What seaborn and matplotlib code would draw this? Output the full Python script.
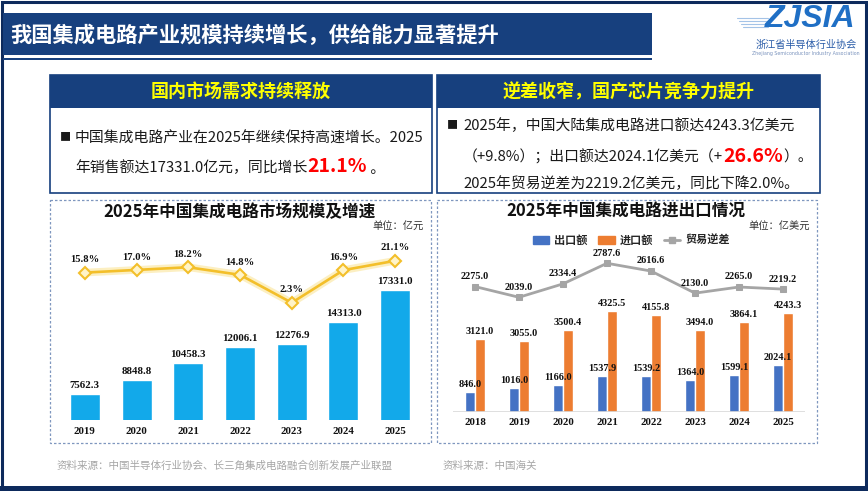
import numpy as np
import pandas as pd
import matplotlib
matplotlib.use("Agg")
import matplotlib.pyplot as plt
import seaborn as sns
from matplotlib.patches import Rectangle, Patch
from matplotlib.lines import Line2D

# ---- data ----
years_market = ["2019", "2020", "2021", "2022", "2023", "2024", "2025"]
market_size = [7562.3, 8848.8, 10458.3, 12006.1, 12276.9, 14313.0, 17331.0]
market_growth = [15.8, 17.0, 18.2, 14.8, 2.3, 16.9, 21.1]

years_trade = ["2018", "2019", "2020", "2021", "2022", "2023", "2024", "2025"]
exports = [846.0, 1016.0, 1166.0, 1537.9, 1539.2, 1364.0, 1599.1, 2024.1]
imports = [3121.0, 3055.0, 3500.4, 4325.5, 4155.8, 3494.0, 3864.1, 4243.3]
deficit = [2275.0, 2039.0, 2334.4, 2787.6, 2616.6, 2130.0, 2265.0, 2219.2]

CJK = ["Noto Sans CJK SC", "DejaVu Sans"]
SERIF = ["Liberation Serif", "DejaVu Serif"]
NAVY = "#17407E"
FRAME = "#0D2A5C"

sns.set_theme(style="white")
plt.rcParams["font.family"] = CJK

W, H = 868, 491
fig = plt.figure(figsize=(W / 100, H / 100), dpi=100)

# background axes in pixel coordinates
bg = fig.add_axes([0, 0, 1, 1])
bg.set_xlim(0, W)
bg.set_ylim(H, 0)
bg.axis("off")


def px_axes(x0, y0, x1, y1):
    return fig.add_axes([x0 / W, 1 - y1 / H, (x1 - x0) / W, (y1 - y0) / H])


def rect(x0, y0, x1, y1, **kw):
    bg.add_patch(Rectangle((x0, y0), x1 - x0, y1 - y0, **kw))


renderer = fig.canvas.get_renderer()


def rich(x, y, parts):
    # parts: (text, size, color, weight) placed one after another on a baseline
    for s, size, color, weight in parts:
        t = bg.text(x, y, s, fontsize=size, color=color, fontweight=weight,
                    va="baseline", ha="left", family=CJK)
        x += t.get_window_extent(renderer=renderer).width


# outer frame
rect(1.5, 1.5, 865.5, 488, fill=False, edgecolor=FRAME, lw=2.2)
rect(0, 486, W, H, color=FRAME, lw=0)

# title bar
rect(3, 13, 652, 55, color=NAVY, lw=0)
rect(3, 57.5, 652, 59.5, color=NAVY, lw=0)
bg.text(10, 35, "我国集成电路产业规模持续增长，供给能力显著提升", color="white",
        fontsize=15.3, fontweight="bold", va="center", ha="left")

# logo
for i, yy in enumerate([18, 21, 24, 27]):
    bg.plot([737 + i * 2, 768], [yy, yy], color="#8DB4E2", lw=0.8, alpha=0.8)
bg.text(810, 19, "ZJSIA", color="#1F6FC5", fontsize=23, fontweight="bold",
        fontstyle="italic", family=["Liberation Sans", "DejaVu Sans"],
        ha="center", va="center")
bg.text(806, 45, "浙江省半导体行业协会", color="#2A5CA8", fontsize=7.3,
        ha="center", va="center")
bg.text(806, 53, "Zhejiang Semiconductor Industry Association", color="#7A93BD",
        fontsize=3.4, ha="center", va="center", family=["DejaVu Sans"])

# text panels
for x0, x1, head in [(50, 432, "国内市场需求持续释放"), (437, 820, "逆差收窄，国产芯片竞争力提升")]:
    rect(x0, 75, x1, 108, color=NAVY, lw=0)
    rect(x0, 75, x1, 193, fill=False, edgecolor=NAVY, lw=1.2)
    bg.text((x0 + x1) / 2, 91.5, head, color="#FFFF00", fontsize=13,
            fontweight="bold", ha="center", va="center")

TXT = "#1A1A1A"
RED = "#FF0000"
FS = 10.7
bg.text(60, 137, "■", fontsize=8, color=TXT, va="center", ha="left")
rich(75, 142.5, [("中国集成电路产业在2025年继续保持高速增长。2025", FS, TXT, "normal")])
rich(75, 172.5, [("年销售额达17331.0亿元，同比增长", FS, TXT, "normal"),
                 ("21.1%", 14, RED, "bold"), (" 。", FS, TXT, "normal")])

bg.text(447, 125, "■", fontsize=8, color=TXT, va="center", ha="left")
rich(463, 130.5, [("2025年，中国大陆集成电路进口额达4243.3亿美元", FS, TXT, "normal")])
rich(463, 161.5, [("（+9.8%）；出口额达2024.1亿美元（+", FS, TXT, "normal"),
                  ("26.6%", 14, RED, "bold"), ("）。", FS, TXT, "normal")])
rich(463, 188.5, [("2025年贸易逆差为2219.2亿美元，同比下降2.0%。", FS, TXT, "normal")])

# dashed chart boxes
for x0, x1 in [(50, 431), (437, 817)]:
    rect(x0, 200, x1, 443, fill=False, edgecolor="#7F97BF", lw=0.9,
         linestyle=(0, (2, 1.6)))

# chart titles and units
bg.text(240, 212, "2025年中国集成电路市场规模及增速", fontsize=12, fontweight="bold",
        ha="center", va="center", color="#111111")
bg.text(424, 227, "单位：亿元", fontsize=7.4, ha="right", va="center", color="#333333")
bg.text(626, 212, "2025年中国集成电路进出口情况", fontsize=12, fontweight="bold",
        ha="center", va="center", color="#111111")
bg.text(810, 227, "单位：亿美元", fontsize=7.4, ha="right", va="center", color="#333333")

# sources
bg.text(57, 466, "资料来源：中国半导体行业协会、长三角集成电路融合创新发展产业联盟",
        fontsize=7.6, color="#A6A6A6", ha="left", va="center")
bg.text(443, 466, "资料来源：中国海关", fontsize=7.6, color="#A6A6A6",
        ha="left", va="center")

# ---- left chart: market size bars + growth line ----
ax1 = px_axes(59, 240, 421, 420)
sns.barplot(x=years_market, y=market_size, color="#12A9EA", saturation=1,
            width=0.58, ax=ax1)
ax1.set_ylim(5120, 22027)
ax1.bar_label(ax1.containers[0], fmt="%.1f", padding=3, fontsize=7.8,
              fontweight="bold", family=SERIF, color="#111111")

ax1b = ax1.twinx()
xpos = np.arange(len(years_market))
ax1b.plot(xpos, market_growth, color="#FBE9A8", lw=5.5, alpha=0.7, zorder=1)
sns.lineplot(x=xpos, y=market_growth, ax=ax1b, color="#F3BF2A", lw=1.9,
             marker="D", markersize=6, markerfacecolor="#FFF4C8",
             markeredgecolor="#F3BF2A", markeredgewidth=1.5, zorder=2)
ax1b.set_ylim(-50.2, 30.4)
for xi, g in zip(xpos, market_growth):
    ax1b.annotate(f"{g:.1f}%", (xi, g), xytext=(0, 6), textcoords="offset points",
                  ha="center", va="bottom", fontsize=7.6, fontweight="bold",
                  family=SERIF, color="#111111")
ax1.set_xlim(-0.5, len(years_market) - 0.5)

# ---- right chart: trade bars + deficit line ----
trade = pd.DataFrame({
    "year": years_trade * 2,
    "value": exports + imports,
    "type": ["出口额"] * len(years_trade) + ["进口额"] * len(years_trade),
})
ax2 = px_axes(453, 250, 805, 412)
sns.barplot(data=trade, x="year", y="value", hue="type",
            palette=["#4472C4", "#ED7D31"], saturation=1, width=0.46,
            legend=False, ax=ax2)
ax2.set_ylim(0, 6923)
ax2.axhline(0, color="#D9D9D9", lw=1.2)
for c in ax2.containers:
    ax2.bar_label(c, fmt="%.1f", padding=2, fontsize=7.4, fontweight="bold",
                  family=SERIF, color="#111111")

ax2b = ax2.twinx()
xpos2 = np.arange(len(years_trade))
sns.lineplot(x=xpos2, y=deficit, ax=ax2b, color="#A5A5A5", lw=2,
             marker="s", markersize=5, markeredgecolor="#A5A5A5")
ax2b.set_ylim(-487, 3080)
for xi, d in zip(xpos2, deficit):
    ax2b.annotate(f"{d:.1f}", (xi, d), xytext=(0, 4), textcoords="offset points",
                  ha="center", va="bottom", fontsize=7.4, fontweight="bold",
                  family=SERIF, color="#111111")
ax2.set_xlim(-0.5, len(years_trade) - 0.5)

for a in [ax1, ax1b, ax2, ax2b]:
    a.set_facecolor("none")
    for s in a.spines.values():
        s.set_visible(False)
    a.set_xlabel("")
    a.set_ylabel("")
    a.set_yticks([])
    a.grid(False)

for a, yrs, pad in [(ax1, years_market, 5), (ax2, years_trade, 4)]:
    a.set_xticks(range(len(yrs)))
    a.set_xticklabels(yrs, fontsize=7.8, fontweight="bold", family=SERIF,
                      color="#111111")
    a.tick_params(axis="x", length=0, pad=pad)
for a in [ax1b, ax2b]:
    a.tick_params(axis="x", length=0)

handles = [Patch(color="#4472C4"), Patch(color="#ED7D31"),
           Line2D([], [], color="#A5A5A5", lw=2, marker="s", markersize=4)]
fig.legend(handles, ["出口额", "进口额", "贸易逆差"], loc="center",
           bbox_to_anchor=(631 / W, 1 - 240 / H), ncol=3, frameon=False,
           prop=dict(family=CJK, size=8, weight="bold"), handlelength=1.5,
           handleheight=0.7, handletextpad=0.4, columnspacing=1.0)

fig.savefig("out.png", dpi=100)
